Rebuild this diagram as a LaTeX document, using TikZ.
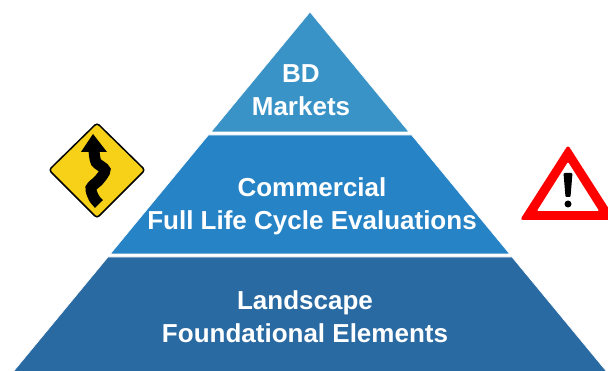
\documentclass[tikz,border=0pt]{standalone}
\usepackage{fontspec}
\setmainfont{Liberation Sans}
\usepackage{tikz}
\definecolor{topblue}{RGB}{58,147,198}
\definecolor{midblue}{RGB}{38,131,198}
\definecolor{lowblue}{RGB}{42,106,162}
\definecolor{signyellow}{RGB}{247,209,23}
\tikzset{layer/.style={font=\bfseries\fontsize{26}{33}\selectfont, text=white, align=center, anchor=base}}

\begin{document}
\begin{tikzpicture}[x=1pt,y=-1pt]
    \clip (0,0) rectangle (608,371);
    % pyramid
    \filldraw[topblue, draw=white, line width=0.6pt] (310,12) -- (409,132) -- (211,132) -- cycle;
    \filldraw[midblue, draw=white, line width=0.6pt] (208.4,135) -- (411.6,135) -- (509.7,254) -- (110.3,254) -- cycle;
    \filldraw[lowblue, draw=white, line width=0.6pt] (108,257) -- (512,257) -- (613.6,380) -- (6.4,380) -- cycle;
    \node[layer] (BD) at (301,116) {BD\\Markets};
    \node[layer] (Com) at (312,230) {Commercial\\Full Life Cycle Evaluations};
    \node[layer] (Land) at (305,343) {Landscape\\Foundational Elements};
    % winding road sign
    \filldraw[fill=signyellow, draw=black, line width=1.5pt, rounded corners=3pt]
        (97,123) -- (145,170) -- (97,218) -- (49,170) -- cycle;
    \draw[line width=11pt] plot[smooth] coordinates {(94,150) (96,162) (105,170) (99,180) (91,188) (94,198) (99,204)};
    \fill (93,134) -- (107,152) -- (81,152) -- cycle;
    % warning sign
    \fill[red, rounded corners=3pt] (568,145) -- (616,220) -- (520,220) -- cycle;
    \fill[white, rounded corners=1pt] (568,162) -- (599,211) -- (537,211) -- cycle;
    \fill[rounded corners=1pt] (563.5,173) -- (572.5,173) -- (570.5,197) -- (565.5,197) -- cycle;
    \fill (568,204) circle (3.5);
\end{tikzpicture}
\end{document}
